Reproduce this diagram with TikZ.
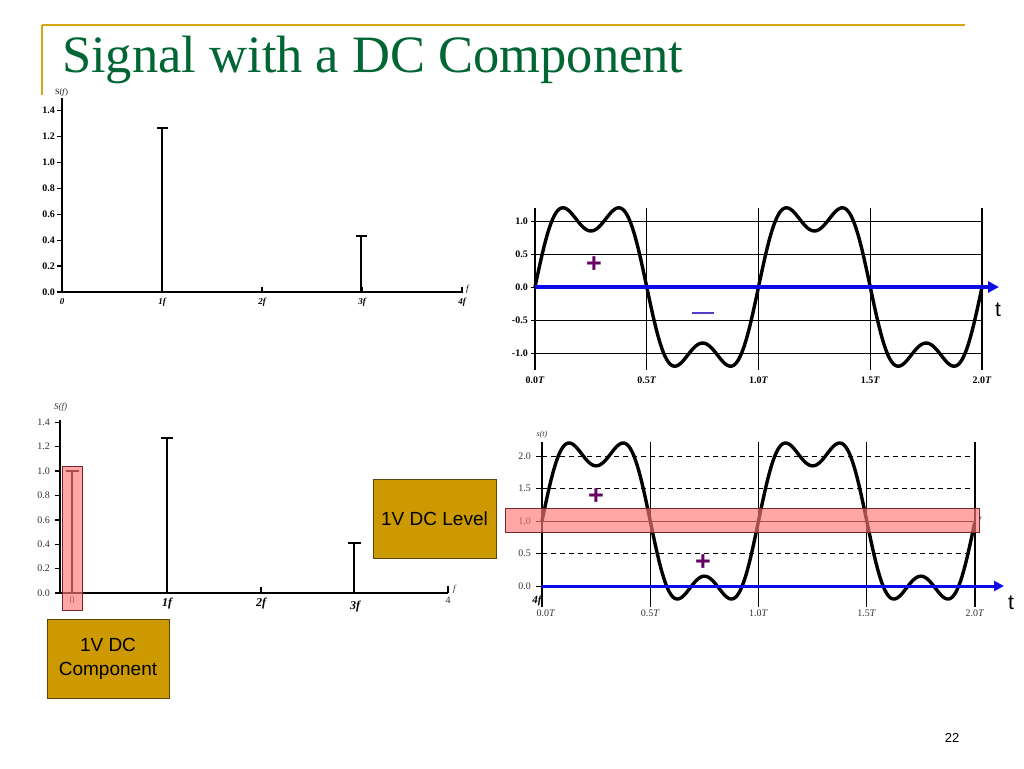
\documentclass[tikz,border=0pt]{standalone}
\usepackage{fontspec}
\setmainfont{Liberation Serif}
\setsansfont{Liberation Sans}
\usetikzlibrary{arrows.meta}
\definecolor{titlegreen}{RGB}{0,102,51}
\definecolor{goldline}{RGB}{214,166,20}
\definecolor{boxgold}{RGB}{204,153,0}
\definecolor{boxedge}{RGB}{90,70,10}
\definecolor{pinkfill}{RGB}{255,120,120}
\definecolor{pinkedge}{RGB}{120,40,40}
\definecolor{plusc}{RGB}{102,0,102}
\definecolor{minusc}{RGB}{80,60,200}
\definecolor{axblue}{RGB}{10,10,235}
\tikzset{
  lblb/.style={font=\fontsize{10}{10}\selectfont\bfseries, inner sep=0pt},
  lbln/.style={font=\fontsize{10}{10}\selectfont, inner sep=0pt, text=black!80},
  axisline/.style={line width=1.4pt},
  spike/.style={line width=1.4pt},
  wave/.style={line width=3.4pt, line join=round},
  vgrid/.style={line width=1.4pt},
  hgrid/.style={line width=0.7pt},
  dgrid/.style={line width=0.7pt, dashed, dash pattern=on 5pt off 4pt},
  goldbox/.style={draw=boxedge, line width=1pt, fill=boxgold, font=\sffamily\fontsize{19}{24}\selectfont, align=center, inner sep=0pt},
  pinkbox/.style={draw=pinkedge, line width=0.8pt, fill=pinkfill, fill opacity=0.65},
  sign/.style={text=plusc, font=\sffamily\bfseries\fontsize{27}{27}\selectfont, inner sep=0pt},
  tlabel/.style={font=\sffamily\fontsize{21}{21}\selectfont, inner sep=0pt}
}
\begin{document}
\begin{tikzpicture}[x=1pt,y=-1pt]
\useasboundingbox (0,0) rectangle (1024,768);
\fill[white] (0,0) rectangle (1024,768);
% title frame
\draw[goldline, line width=2pt] (42,25) -- (965,25);
\draw[goldline, line width=2pt] (42,25) -- (42,95);
\node[anchor=base west, inner sep=0pt, text=titlegreen, font=\fontsize{52.5}{52.5}\selectfont] (title) at (62,72) {Signal with a DC Component};

% ===== top-left spectrum =====
\draw[axisline] (62,98) -- (62,292) -- (463,292);
\foreach \v/\lab in {0/0.0,1/0.2,2/0.4,3/0.6,4/0.8,5/1.0,6/1.2,7/1.4}{
  \draw[axisline] (57,{292-25.9*\v}) -- (62,{292-25.9*\v});
  \node[lblb, anchor=east] at (55,{292-25.9*\v}) {\lab};
}
\foreach \i/\lab in {0/0,1/1f,2/2f,3/3f,4/4f}{
  \draw[axisline] ({62+100*\i},292) -- ({62+100*\i},287);
  \node[lblb, anchor=north, font=\fontsize{9}{9}\selectfont\bfseries\itshape] at ({62+100*\i},298) {\lab};
}
\node[lblb, font=\fontsize{8}{8}\selectfont, anchor=south west] (sf1) at (55,96) {S(\textit{f})};
\node[lblb, font=\fontsize{9}{9}\selectfont\itshape, anchor=west] at (466,289) {f};
\draw[spike] (162,292) -- (162,128); \draw[spike] (157,128) -- (168,128);
\draw[spike] (361,292) -- (361,236); \draw[spike] (356,236) -- (367,236);

% ===== bottom-left spectrum =====
\draw[axisline] (60,420) -- (60,593) -- (448,593);
\foreach \v/\lab in {0/0.0,1/0.2,2/0.4,3/0.6,4/0.8,5/1.0,6/1.2,7/1.4}{
  \draw[axisline] (55,{593-24.4*\v}) -- (60,{593-24.4*\v});
  \node[lbln, anchor=east] at (50,{593-24.4*\v}) {\lab};
}
\draw[axisline] (261,593) -- (261,587);
\draw[axisline] (448,593) -- (448,586);
\node[lbln, anchor=north] at (72,597) {0};
\node[lblb, anchor=north, font=\fontsize{12}{12}\selectfont\bfseries\itshape] at (167,598) {1f};
\node[lblb, anchor=north, font=\fontsize{12}{12}\selectfont\bfseries\itshape] at (261,598) {2f};
\node[lblb, anchor=north, font=\fontsize{12}{12}\selectfont\bfseries\itshape] at (355,601) {3f};
\node[lbln, anchor=north] at (448,597) {4};
\node[lbln, font=\fontsize{9}{9}\selectfont\itshape, anchor=west] at (453,589) {f};
\node[lbln, font=\fontsize{9}{9}\selectfont\itshape, anchor=south west] at (54,412) {S(f)};
\draw[spike] (72,593) -- (72,471); \draw[spike] (66,471) -- (79,471);
\draw[spike] (167,593) -- (167,438); \draw[spike] (161,438) -- (173,438);
\draw[spike] (354,593) -- (354,543); \draw[spike] (348,543) -- (361,543);
\draw[pinkbox] (62,466) rectangle (82,610);

\node[goldbox, minimum width=123pt, minimum height=79pt] (dclevel) at (434.5,518.5) {1V DC Level};
\node[goldbox, minimum width=122pt, minimum height=79pt] (dccomp) at (108,658.5) {1V DC\\Component};

% ===== top-right waveform =====
\foreach \v/\lab in {1/1.0,0.5/0.5,0/0.0,-0.5/-0.5,-1/-1.0}{
  \draw[hgrid] (531,{287-66*\v}) -- (983,{287-66*\v});
  \node[lblb, anchor=east] at (528,{287-66*\v}) {\lab};
}
\foreach \i/\lab in {0/0.0,1/0.5,2/1.0,3/1.5,4/2.0}{
  \draw[vgrid] ({535+111.75*\i},208) -- ({535+111.75*\i},370);
  \node[lblb, anchor=north] at ({535+111.75*\i},377) {\lab\textit{T}};
}
\draw[wave] plot[domain=0:2, samples=300, smooth] ({535+223.5*\x}, {287-66*1.2732*(sin(360*\x)+sin(1080*\x)/3)});
\coordinate (tr0) at (535,287);
\coordinate (tr1) at (999,287);
\draw[axblue, line width=4pt, -{Triangle[length=11pt,width=11pt]}] (tr0) -- (tr1);
\node[tlabel] (t1) at (998,310) {t};
\node[sign] (p1) at (594,265) {+};
\draw[minusc, line width=1.5pt] (692,313) -- (714,313);

% ===== bottom-right waveform =====
\foreach \v in {2,1.5,0.5}{
  \draw[dgrid] (542,{586-65*\v}) -- (975,{586-65*\v});
}
\foreach \v/\lab in {2/2.0,1.5/1.5,1/1.0,0.5/0.5,0/0.0}{
  \draw[hgrid] (536,{586-65*\v}) -- (542,{586-65*\v});
  \node[lbln, anchor=east] at (531,{586-65*\v}) {\lab};
}
\draw[hgrid] (542,521) -- (975,521);
\foreach \i in {0,1,2,3,4}{
  \draw[vgrid] ({542+108.25*\i},442) -- ({542+108.25*\i},607);
}
\foreach \i/\lab in {1/0.5,2/1.0,3/1.5,4/2.0}{
  \node[lbln, anchor=north] at ({542+108.25*\i},610) {\lab\textit{T}};
}
\node[lbln, anchor=north] at (546,610) {0.0\textit{T}};
\node[lblb, anchor=north, font=\fontsize{11}{11}\selectfont\bfseries\itshape] at (537,596) {4f};
\node[lbln, font=\fontsize{8}{8}\selectfont\itshape, anchor=south] at (542,438) {s(t)};
\draw[wave] plot[domain=0:2, samples=300, smooth] ({542+216.5*\x}, {586-65*(1+1.2732*(sin(360*\x)+sin(1080*\x)/3))});
\coordinate (br0) at (542,586);
\coordinate (br1) at (1004,586);
\draw[axblue, line width=3pt, -{Triangle[length=10pt,width=10pt]}] (br0) -- (br1);
\node[tlabel] (t2) at (1011,603) {t};
\node[lbln, font=\fontsize{8}{8}\selectfont\itshape] at (980,521) {f};
\draw[pinkbox] (505,508) rectangle (979,532);
\node[sign] (p2) at (596,497) {+};
\node[sign] (p3) at (703,563) {+};

% page number
\node[font=\sffamily\fontsize{13}{13}\selectfont, inner sep=0pt] (pg) at (952,738) {22};
\end{tikzpicture}
\end{document}
